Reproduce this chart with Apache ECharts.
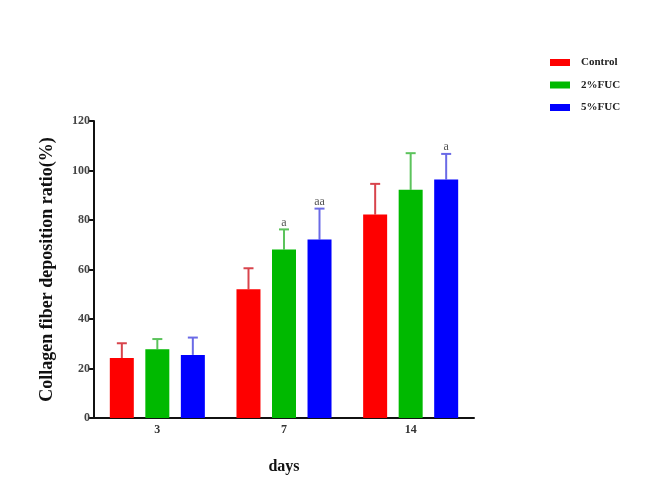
<!DOCTYPE html>
<html><head><meta charset="utf-8">
<script src="https://cdn.jsdelivr.net/npm/echarts@6/dist/echarts.min.js"></script>
<style>html,body{margin:0;padding:0;background:#fff}#c{width:662px;height:491px}</style>
</head><body><div id="c"></div>
<script>
var categories = ['3', '7', '14'];
var seriesNames = ['Control', '2%FUC', '5%FUC'];
var controlMean = [24.2, 52.0, 82.2];
var controlErr = [6.0, 8.5, 12.4];
var fuc2Mean = [27.8, 68.1, 92.2];
var fuc2Err = [4.1, 8.1, 14.8];
var fuc5Mean = [25.5, 72.1, 96.4];
var fuc5Err = [7.0, 12.5, 10.3];
var controlMarks = ['', '', ''];
var fuc2Marks = ['', 'a', ''];
var fuc5Marks = ['', 'aa', 'a'];
var yTicks = [0, 20, 40, 60, 80, 100, 120];

var barColors = ['#fe0000', '#00b900', '#0000fe'];
var errColors = ['#d8444c', '#5cc35c', '#6a6ae6'];
var offsets = [-35.5, 0, 35.5];
var font = '"Liberation Serif", "DejaVu Serif", serif';

var means = [controlMean, fuc2Mean, fuc5Mean];
var errs = [controlErr, fuc2Err, fuc5Err];
var marks = [controlMarks, fuc2Marks, fuc5Marks];

var series = [];
for (var s = 0; s < 3; s++) {
  series.push({
    name: seriesNames[s], type: 'bar', barWidth: 24, barGap: '48%',
    itemStyle: { color: barColors[s] },
    data: means[s], z: 2
  });
}
for (var s2 = 0; s2 < 3; s2++) {
  (function (s) {
    var d = means[s].map(function (m, i) { return [i, m, m + errs[s][i]]; });
    series.push({
      type: 'custom', z: 1, silent: true,
      data: d,
      renderItem: function (params, api) {
        var i = api.value(0);
        var p0 = api.coord([i, api.value(1)]);
        var p1 = api.coord([i, api.value(2)]);
        var x = p0[0] + offsets[s];
        var children = [
          { type: 'line', shape: { x1: x, y1: p0[1], x2: x, y2: p1[1] }, style: { stroke: errColors[s], lineWidth: 2 } },
          { type: 'line', shape: { x1: x - 5, y1: p1[1], x2: x + 5, y2: p1[1] }, style: { stroke: errColors[s], lineWidth: 2 } }
        ];
        var t = marks[s][i];
        if (t) {
          children.push({ type: 'text', style: { x: x, y: p1[1] - 1, text: t, textAlign: 'center', textVerticalAlign: 'bottom', font: '12px ' + font, fill: '#555' } });
        }
        return { type: 'group', children: children };
      }
    });
  })(s2);
}

var chart = echarts.init(document.getElementById('c'));
chart.setOption({
  animation: false,
  backgroundColor: '#fff',
  grid: { left: 94, top: 121, width: 380, height: 297 },
  legend: {
    data: seriesNames, orient: 'vertical', left: 545, top: 52,
    itemWidth: 20, itemHeight: 7, itemGap: 11.5,
    icon: 'rect',
    textStyle: { fontFamily: font, fontWeight: 'bold', fontSize: 11, color: '#222', padding: [0, 0, 0, 6] }
  },
  xAxis: {
    type: 'category', data: categories,
    name: 'days', nameLocation: 'middle', nameGap: 41,
    nameTextStyle: { fontFamily: font, fontWeight: 'bold', fontSize: 16, color: '#111' },
    axisLine: { lineStyle: { color: '#111', width: 2 } },
    axisTick: { alignWithLabel: true, length: 5, lineStyle: { color: '#111', width: 2 } },
    axisLabel: { fontFamily: font, fontWeight: 'bold', fontSize: 12, color: '#333', margin: 6 }
  },
  yAxis: {
    type: 'value', min: 0, max: 120, interval: 20,
    name: 'Collagen fiber deposition ratio(%)', nameLocation: 'middle', nameGap: 38,
    nameTextStyle: { fontFamily: font, fontWeight: 'bold', fontSize: 18, color: '#111' },
    axisLine: { show: true, lineStyle: { color: '#111', width: 2 } },
    axisTick: { show: true, length: 5, lineStyle: { color: '#111', width: 2 } },
    splitLine: { show: false },
    axisLabel: { fontFamily: font, fontWeight: 'bold', fontSize: 12, color: '#444', margin: 4,
      formatter: function (v) { return yTicks.indexOf(v) >= 0 ? String(v) : ''; } }
  },
  series: series
});
</script></body></html>
